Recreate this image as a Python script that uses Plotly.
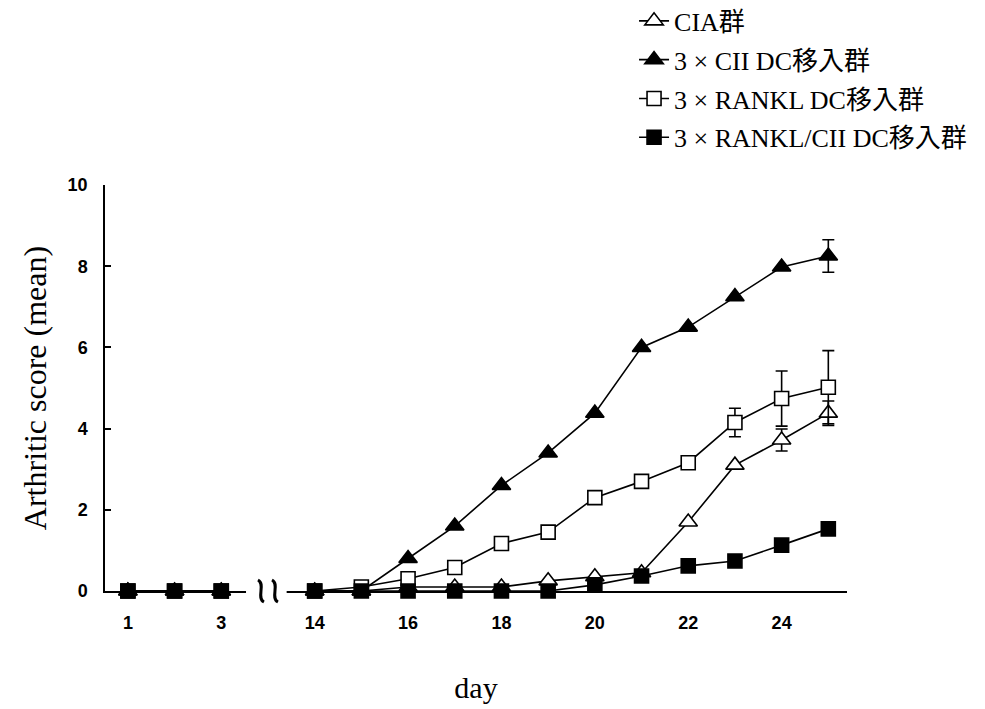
import numpy as np
import plotly.graph_objects as go

# ---------------- data ----------------
days_early = [1, 2, 3]
days_late = [14, 15, 16, 17, 18, 19, 20, 21, 22, 23, 24, 25]
break_cat = "~"
tick_days = ["1", "3", "14", "16", "18", "20", "22", "24"]

names = ["CIA群", "3 × CII DC移入群", "3 × RANKL DC移入群", "3 × RANKL/CII DC移入群"]

cia_early = [0, 0, 0]
cia_late = [0, 0, 0.1, 0.1, 0.1, 0.25, 0.35, 0.45, 1.7, 3.1, 3.72, 4.38]
cia_err = [None, None, None, None, None, None, None, None, None, None, 0.27, 0.3]

cii_early = [0, 0, 0]
cii_late = [0, 0, 0.8, 1.6, 2.6, 3.4, 4.38, 6.0, 6.5, 7.25, 7.98, 8.25]
cii_err = [None, None, None, None, None, None, None, None, None, None, None, 0.4]

rankl_early = [0, 0, 0]
rankl_late = [0, 0.1, 0.3, 0.58, 1.17, 1.45, 2.3, 2.7, 3.16, 4.15, 4.74, 5.02]
rankl_err = [None, None, None, None, None, None, None, None, None, 0.35, 0.68, 0.9]

rc_early = [0, 0, 0]
rc_late = [0, 0, 0, 0, 0, 0, 0.15, 0.37, 0.62, 0.74, 1.13, 1.53]
rc_err = [None] * 12

# ---------------- build ----------------
x_cats = [str(d) for d in days_early] + [break_cat] + [str(d) for d in days_late]
break_idx = x_cats.index(break_cat)


def ys(early, late):
    return list(early) + [None] + list(late)


def errs(err):
    return np.array([np.nan] * (len(days_early) + 1) + [np.nan if e is None else e for e in err], dtype=float)


series = [
    (names[0], cia_early, cia_late, cia_err, "triangle-up", "white", 16),
    (names[1], cii_early, cii_late, cii_err, "triangle-up", "black", 16),
    (names[2], rankl_early, rankl_late, rankl_err, "square", "white", 14),
    (names[3], rc_early, rc_late, rc_err, "square", "black", 14),
]

fig = go.Figure()
for i, (nm, e, l, er, sym, fill, sz) in enumerate(series):
    has_err = any(v is not None for v in er)
    fig.add_trace(go.Scatter(
        x=x_cats, y=ys(e, l), name=nm, mode="lines+markers",
        legendgroup=f"g{i}",
        line=dict(color="black", width=1.6),
        marker=dict(symbol=sym, size=sz, color=fill, line=dict(color="black", width=1.6)),
        error_y=dict(type="data", array=errs(er), symmetric=True, visible=has_err,
                     color="black", thickness=1.6, width=6),
        cliponaxis=False, connectgaps=False,
    ))

serif = "Liberation Serif, Times New Roman, Noto Sans CJK JP, serif"
sans = "Liberation Sans, Arial, sans-serif"


def wave(dx):
    # one wavy stroke of the axis-break sign, in pixels relative to its anchor
    return f"M {dx-3},11 C {dx+5},7 {dx-5},-7 {dx+3},-11"


break_shapes = [
    dict(type="rect", xref="x", yref="paper", x0=break_idx - 0.47, x1=break_idx + 0.4,
         y0=-0.012, y1=0.012, fillcolor="white", line=dict(width=0), layer="above"),
]
for dx in (-7, 7):
    break_shapes.append(dict(type="path", xref="x", yref="paper", xsizemode="pixel", ysizemode="pixel",
                             xanchor=break_idx, yanchor=0, path=wave(dx),
                             line=dict(color="black", width=3), layer="above"))

fig.update_layout(
    width=985, height=709,
    margin=dict(l=97, r=146, t=177, b=126, autoexpand=False),
    paper_bgcolor="white", plot_bgcolor="white",
    showlegend=True,
    legend=dict(x=0.713, y=1.462, xanchor="left", yanchor="top",
                font=dict(family=serif, size=26, color="black"),
                tracegroupgap=2, bgcolor="rgba(0,0,0,0)"),
    xaxis=dict(type="category", categoryorder="array", categoryarray=x_cats,
               range=[-0.49, 15.4], showline=True, linecolor="black", linewidth=1.5,
               ticks="", tickmode="array", tickvals=tick_days, ticktext=tick_days,
               tickfont=dict(family=sans, size=18, color="black", weight="bold"),
               ticklabelstandoff=15,
               showgrid=False, zeroline=False,
               title=dict(text="day", font=dict(family=serif, size=30, color="black"), standoff=45)),
    yaxis=dict(range=[0, 10], dtick=2, tick0=0, showline=True, linecolor="black", linewidth=1.5,
               ticks="inside", ticklen=6, tickcolor="black", tickwidth=1.5,
               tickfont=dict(family=sans, size=18, color="black", weight="bold"),
               ticklabelstandoff=12,
               showgrid=False, zeroline=False,
               title=dict(text="Arthritic score (mean)", font=dict(family=serif, size=32, color="black"), standoff=11)),
    shapes=break_shapes,
)

fig.write_html("out.html")
